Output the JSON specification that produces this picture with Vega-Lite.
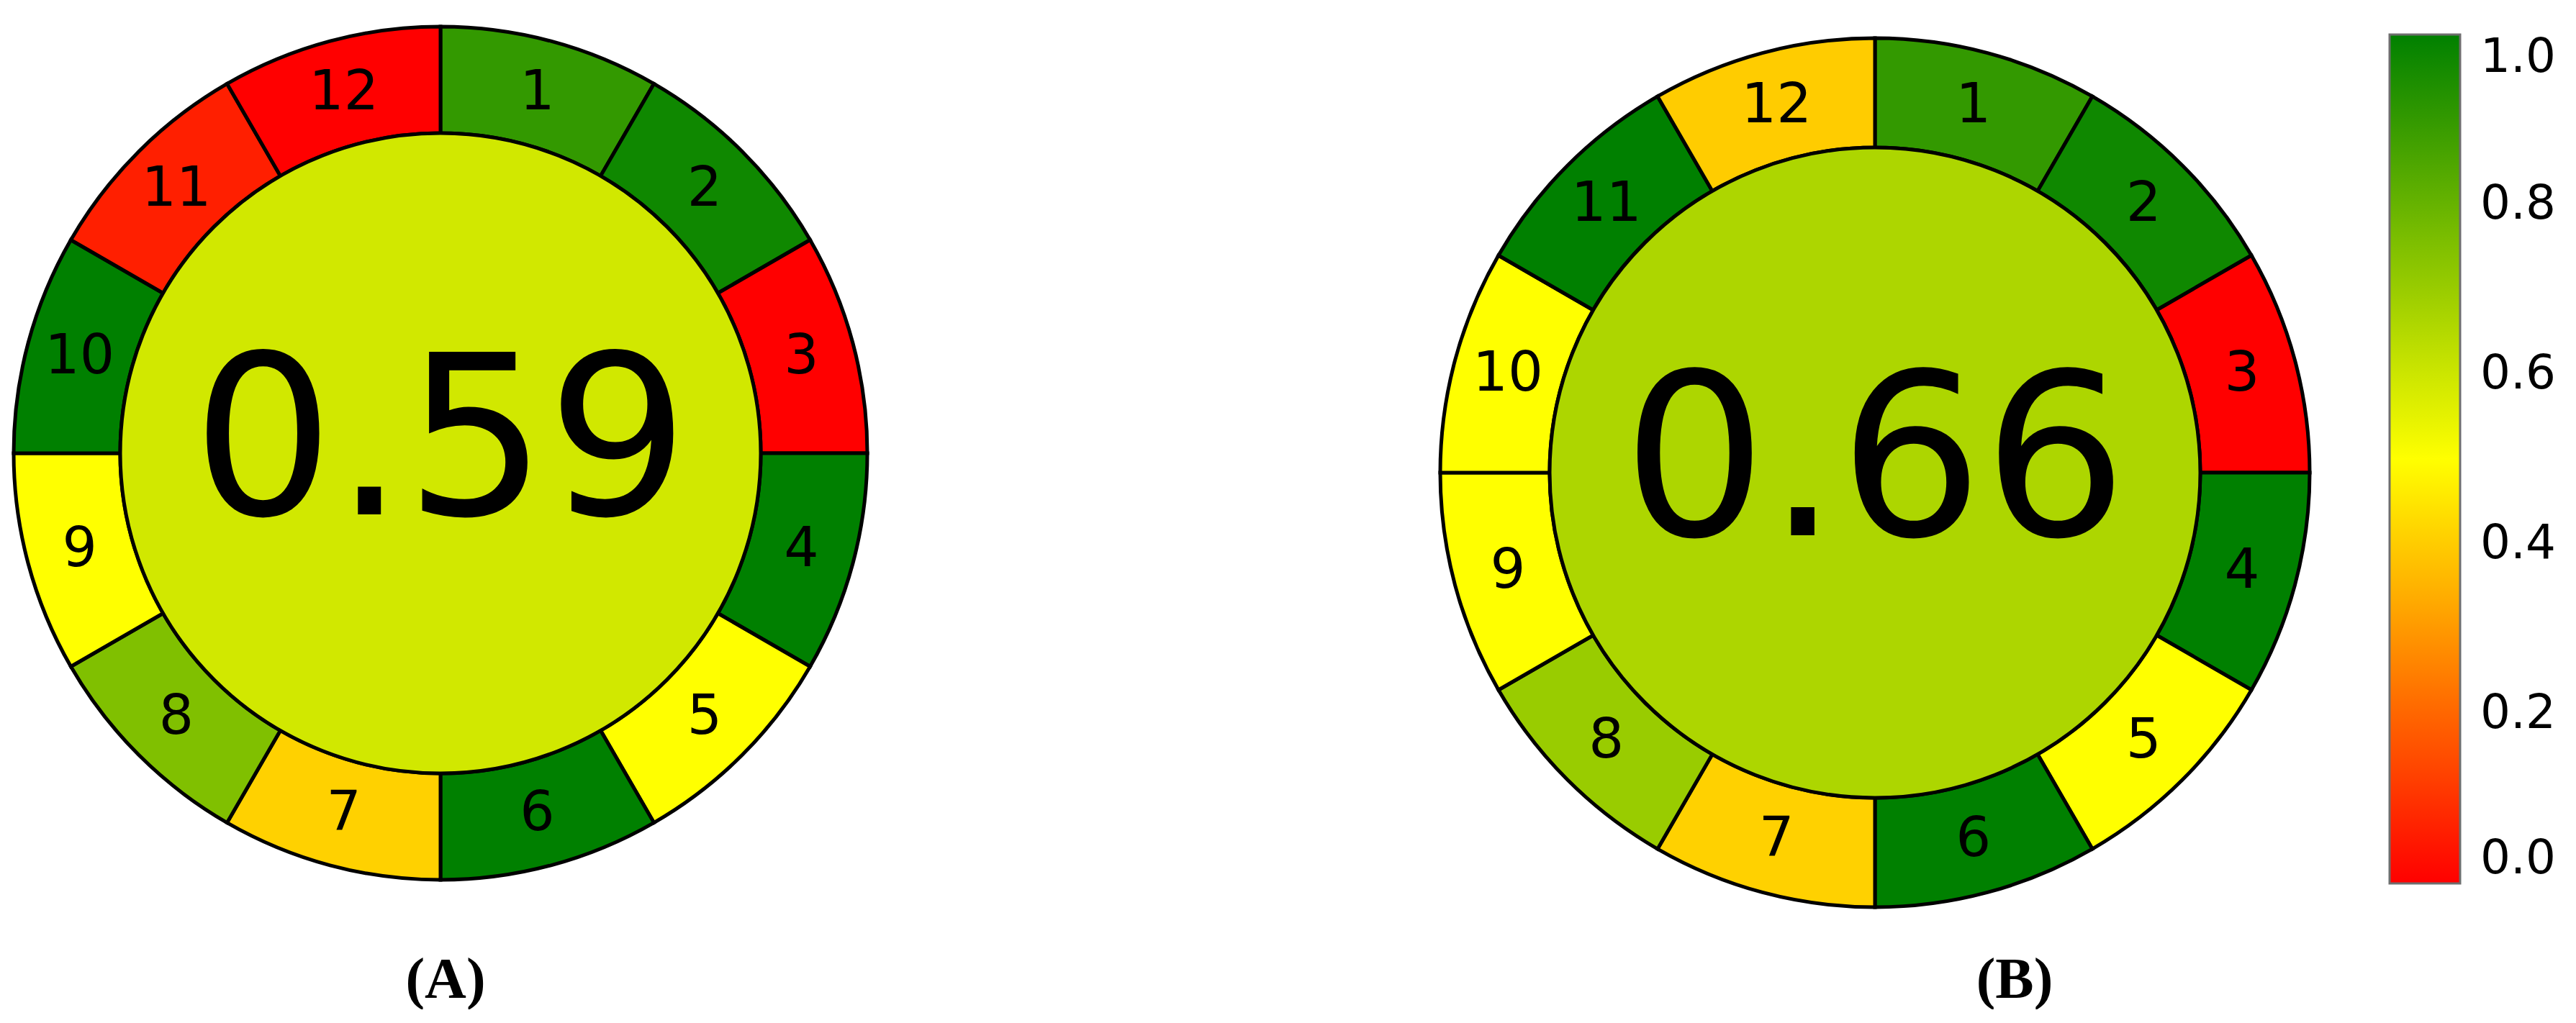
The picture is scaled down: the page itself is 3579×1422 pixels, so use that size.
{
  "$schema": "https://vega.github.io/schema/vega-lite/v6.json",
  "padding": 0,
  "background": "white",
  "config": {"view": {"stroke": null}, "concat": {"spacing": 756}},
  "datasets": {
    "criteria": [
      {"panel": "A", "criterion": 1, "score": 0.9, "weight": 1},
      {"panel": "A", "criterion": 2, "score": 0.97, "weight": 1},
      {"panel": "A", "criterion": 3, "score": 0.0, "weight": 1},
      {"panel": "A", "criterion": 4, "score": 1.0, "weight": 1},
      {"panel": "A", "criterion": 5, "score": 0.5, "weight": 1},
      {"panel": "A", "criterion": 6, "score": 1.0, "weight": 1},
      {"panel": "A", "criterion": 7, "score": 0.41, "weight": 1},
      {"panel": "A", "criterion": 8, "score": 0.75, "weight": 1},
      {"panel": "A", "criterion": 9, "score": 0.5, "weight": 1},
      {"panel": "A", "criterion": 10, "score": 1.0, "weight": 1},
      {"panel": "A", "criterion": 11, "score": 0.06, "weight": 1},
      {"panel": "A", "criterion": 12, "score": 0.0, "weight": 1},
      {"panel": "B", "criterion": 1, "score": 0.9, "weight": 1},
      {"panel": "B", "criterion": 2, "score": 0.97, "weight": 1},
      {"panel": "B", "criterion": 3, "score": 0.0, "weight": 1},
      {"panel": "B", "criterion": 4, "score": 1.0, "weight": 1},
      {"panel": "B", "criterion": 5, "score": 0.5, "weight": 1},
      {"panel": "B", "criterion": 6, "score": 1.0, "weight": 1},
      {"panel": "B", "criterion": 7, "score": 0.41, "weight": 1},
      {"panel": "B", "criterion": 8, "score": 0.7, "weight": 1},
      {"panel": "B", "criterion": 9, "score": 0.5, "weight": 1},
      {"panel": "B", "criterion": 10, "score": 0.5, "weight": 1},
      {"panel": "B", "criterion": 11, "score": 1.0, "weight": 1},
      {"panel": "B", "criterion": 12, "score": 0.4, "weight": 1}
    ],
    "totals": [
      {"panel": "A", "total": 0.59},
      {"panel": "B", "total": 0.66}
    ]
  },
  "hconcat": [
    {
      "width": 1224,
      "height": 1260,
      "title": {"text": "(A)", "orient": "bottom", "baseline": "alphabetic", "offset": 127, "dx": 7, "font": "Liberation Serif", "fontSize": 80, "fontWeight": "bold", "color": "black"},
      "layer": [
        {
          "data": {"name": "criteria"},
          "transform": [{"filter": "datum.panel === 'A'"}],
          "mark": {"type": "arc", "radius": 593, "radius2": 445, "stroke": "black", "strokeWidth": 5},
          "encoding": {
            "theta": {"field": "weight", "type": "quantitative", "stack": true},
            "order": {"field": "criterion", "type": "quantitative"},
            "detail": {"field": "criterion", "type": "nominal"},
            "color": {
              "field": "score", "type": "quantitative",
              "scale": {"type": "linear", "domain": [0, 0.5, 1], "range": ["#ff0000", "#ffff00", "#008000"], "interpolate": "rgb"},
              "legend": {
                "orient": "none", "legendX": 3320, "legendY": 48, "direction": "vertical",
                "gradientLength": 1180, "gradientThickness": 98,
                "values": [0, 0.2, 0.4, 0.6, 0.8, 1], "format": ".1f",
                "labelFont": "DejaVu Sans", "labelFontSize": 66, "labelColor": "black", "labelOffset": 28,
                "labelBaseline": "middle",
                "gradientStrokeColor": "#6e6e6e", "gradientStrokeWidth": 3,
                "title": null, "padding": 0
              }
            }
          }
        },
        {
          "data": {"name": "totals"},
          "transform": [{"filter": "datum.panel === 'A'"}],
          "mark": {"type": "arc", "radius": 445, "theta": 0, "theta2": 6.2832, "stroke": "black", "strokeWidth": 5},
          "encoding": {
            "color": {
              "field": "total", "type": "quantitative",
              "scale": {"type": "linear", "domain": [0, 0.5, 1], "range": ["#ff0000", "#ffff00", "#008000"], "interpolate": "rgb"},
              "legend": null
            }
          }
        },
        {
          "data": {"name": "criteria"},
          "transform": [{"filter": "datum.panel === 'A'"}],
          "mark": {"type": "text", "radius": 519, "font": "DejaVu Sans", "fontSize": 76, "baseline": "middle", "align": "center", "color": "black"},
          "encoding": {
            "theta": {"field": "weight", "type": "quantitative", "stack": true},
            "order": {"field": "criterion", "type": "quantitative"},
            "detail": {"field": "criterion", "type": "nominal"},
            "text": {"field": "criterion", "type": "nominal"}
          }
        },
        {
          "data": {"name": "totals"},
          "transform": [{"filter": "datum.panel === 'A'"}],
          "mark": {"type": "text", "font": "DejaVu Sans", "fontSize": 310, "baseline": "alphabetic", "dy": 85, "align": "center", "color": "black"},
          "encoding": {
            "text": {"field": "total", "type": "quantitative", "format": ".2f"}
          }
        }
      ]
    },
    {
      "width": 1250,
      "height": 1314,
      "title": {"text": "(B)", "orient": "bottom", "baseline": "alphabetic", "offset": 73, "dx": 194, "font": "Liberation Serif", "fontSize": 80, "fontWeight": "bold", "color": "black"},
      "layer": [
        {
          "data": {"name": "criteria"},
          "transform": [{"filter": "datum.panel === 'B'"}],
          "mark": {"type": "arc", "radius": 604, "radius2": 452, "stroke": "black", "strokeWidth": 5},
          "encoding": {
            "theta": {"field": "weight", "type": "quantitative", "stack": true},
            "order": {"field": "criterion", "type": "quantitative"},
            "detail": {"field": "criterion", "type": "nominal"},
            "color": {
              "field": "score", "type": "quantitative",
              "scale": {"type": "linear", "domain": [0, 0.5, 1], "range": ["#ff0000", "#ffff00", "#008000"], "interpolate": "rgb"},
              "legend": null
            }
          }
        },
        {
          "data": {"name": "totals"},
          "transform": [{"filter": "datum.panel === 'B'"}],
          "mark": {"type": "arc", "radius": 452, "theta": 0, "theta2": 6.2832, "stroke": "black", "strokeWidth": 5},
          "encoding": {
            "color": {
              "field": "total", "type": "quantitative",
              "scale": {"type": "linear", "domain": [0, 0.5, 1], "range": ["#ff0000", "#ffff00", "#008000"], "interpolate": "rgb"},
              "legend": null
            }
          }
        },
        {
          "data": {"name": "criteria"},
          "transform": [{"filter": "datum.panel === 'B'"}],
          "mark": {"type": "text", "radius": 528, "font": "DejaVu Sans", "fontSize": 77, "baseline": "middle", "align": "center", "color": "black"},
          "encoding": {
            "theta": {"field": "weight", "type": "quantitative", "stack": true},
            "order": {"field": "criterion", "type": "quantitative"},
            "detail": {"field": "criterion", "type": "nominal"},
            "text": {"field": "criterion", "type": "nominal"}
          }
        },
        {
          "data": {"name": "totals"},
          "transform": [{"filter": "datum.panel === 'B'"}],
          "mark": {"type": "text", "font": "DejaVu Sans", "fontSize": 315, "baseline": "alphabetic", "dy": 87, "align": "center", "color": "black"},
          "encoding": {
            "text": {"field": "total", "type": "quantitative", "format": ".2f"}
          }
        }
      ]
    }
  ]
}
